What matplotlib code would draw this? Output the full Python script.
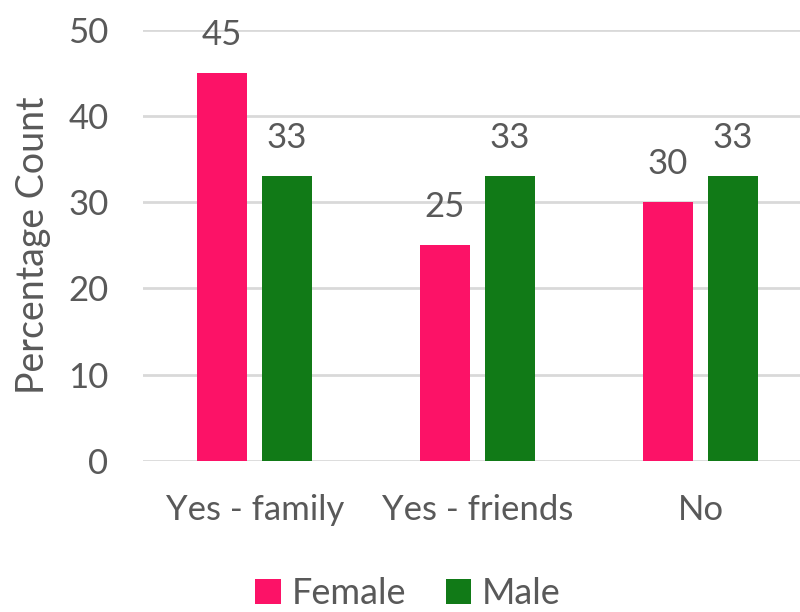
import numpy as np
import matplotlib.pyplot as plt

# data
categories = ["Yes - family", "Yes - friends", "No"]
female = [45, 25, 30]
male = [33, 33, 33]

pink = "#FC1267"
green = "#117A17"
txt = "#595959"

plt.rcParams['font.family'] = ['Lato', 'DejaVu Sans']

fig = plt.figure(figsize=(8, 6.12), dpi=100)
ax = fig.add_axes([0.179, 0.247, 0.836, 0.704])

x = np.arange(len(categories))
w = 0.224
off = 0.146
b1 = ax.bar(x - off, female, w, color=pink, label="Female", zorder=3)
b2 = ax.bar(x + off, male, w, color=green, label="Male", zorder=3)

for bars in (b1, b2):
    for b in bars:
        ax.annotate(f"{b.get_height():.0f}", (b.get_x() + b.get_width() / 2, b.get_height()),
                    xytext=(0, 16), textcoords="offset points", ha="center", va="bottom",
                    fontsize=25, color=txt)

ax.set_xlim(-0.5, 2.5)
ax.set_ylim(0, 50)
ax.set_yticks(range(0, 51, 10))
ax.set_xticks(x)
ax.set_xticklabels(categories)
ax.tick_params(axis="both", length=0, labelsize=25, colors=txt)
ax.tick_params(axis="y", pad=25)
ax.tick_params(axis="x", pad=24)
ax.yaxis.grid(True, color="#D9D9D9", lw=2, zorder=0)
ax.set_axisbelow(True)
for s in ax.spines.values():
    s.set_visible(False)
ax.set_ylabel("Percentage Count", fontsize=27, color=txt, labelpad=12)

fig.legend(handles=[b1, b2], loc="center", bbox_to_anchor=(0.51, 0.03), ncol=2,
           frameon=False, fontsize=26, labelcolor=txt, handlelength=0.7, handleheight=0.7,
           handletextpad=0.3, columnspacing=1.1, borderpad=0.1)

fig.savefig("out.png", dpi=100)
